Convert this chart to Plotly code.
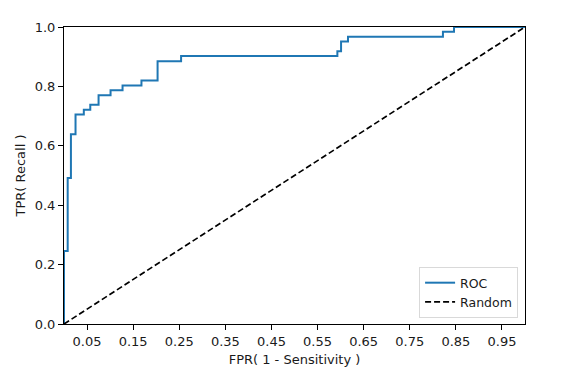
import plotly.graph_objects as go

fpr = [0, 0, 0.008, 0.008, 0.015, 0.015, 0.025, 0.025, 0.043, 0.043, 0.057, 0.057,
       0.075, 0.075, 0.101, 0.101, 0.127, 0.127, 0.168, 0.168, 0.203, 0.203,
       0.254, 0.254, 0.593, 0.593, 0.601, 0.601, 0.616, 0.616, 0.822, 0.822,
       0.846, 0.846, 1.0]
tpr = [0, 0.246, 0.246, 0.492, 0.492, 0.639, 0.639, 0.705, 0.705, 0.721, 0.721,
       0.738, 0.738, 0.770, 0.770, 0.787, 0.787, 0.803, 0.803, 0.820, 0.820,
       0.885, 0.885, 0.902, 0.902, 0.918, 0.918, 0.951, 0.951, 0.967, 0.967,
       0.984, 0.984, 1.0, 1.0]
random_x = [0, 1]
random_y = [0, 1]
x_ticks = [0.05, 0.15, 0.25, 0.35, 0.45, 0.55, 0.65, 0.75, 0.85, 0.95]
y_ticks = [0.0, 0.2, 0.4, 0.6, 0.8, 1.0]

fig = go.Figure()
fig.add_trace(go.Scatter(x=fpr, y=tpr, mode="lines", name="ROC",
                         line=dict(color="#1f77b4", width=2)))
fig.add_trace(go.Scatter(x=random_x, y=random_y, mode="lines", name="Random",
                         line=dict(color="#000000", width=1.7, dash="6px,3px")))

axis_common = dict(showgrid=False, zeroline=False, showline=True, linecolor="black",
                   linewidth=1, mirror=True, ticks="outside", ticklen=5,
                   tickcolor="black", tickwidth=1,
                   tickfont=dict(family="DejaVu Sans", size=13, color="#1a1a1a"))

fig.update_layout(
    width=564, height=374,
    margin=dict(l=55, r=47, t=16, b=58),
    plot_bgcolor="white", paper_bgcolor="white",
    font=dict(family="DejaVu Sans", size=13, color="#1a1a1a"),
    xaxis=dict(range=[0, 1], tickvals=x_ticks,
               ticktext=[f"{v:.2f}" for v in x_ticks],
               title=dict(text="FPR( 1 - Sensitivity )", standoff=7,
                          font=dict(size=13)), **axis_common),
    yaxis=dict(range=[0, 1], tickvals=y_ticks,
               ticktext=[f"{v:.1f}" for v in y_ticks],
               title=dict(text="TPR( Recall )", standoff=6,
                          font=dict(size=13)), **axis_common),
    legend=dict(x=0.985, y=0.02, xanchor="right", yanchor="bottom",
                bgcolor="white", bordercolor="#d9d9d9", borderwidth=1,
                font=dict(size=12.5), tracegroupgap=0, itemwidth=30),
    showlegend=True,
)

fig.write_html("out.html")
